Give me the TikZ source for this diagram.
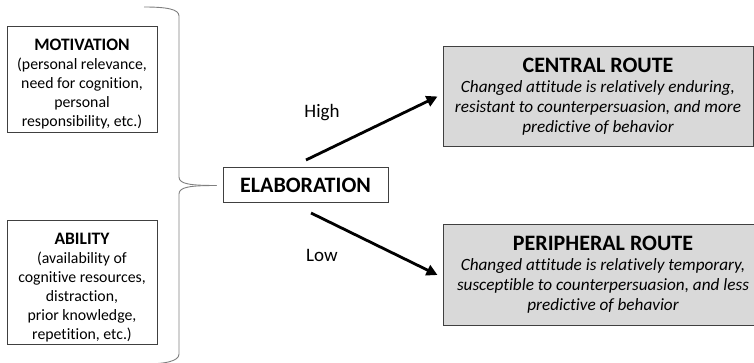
\documentclass[tikz,border=0pt]{standalone}
\usepackage{fontspec}
\setmainfont[Ligatures=NoCommon]{Carlito}
\usetikzlibrary{arrows.meta}
\definecolor{boxgray}{HTML}{D9D9D9}
\definecolor{edgegray}{HTML}{404040}
\definecolor{bracegray}{HTML}{7F7F7F}
\tikzset{
  factor/.style={draw=edgegray, line width=1pt, minimum width=150pt, align=center, inner sep=0pt, font=\fontsize{15.8}{19}\selectfont},
  route/.style={draw=edgegray, fill=boxgray, line width=1pt, minimum height=100pt, align=center, inner sep=0pt, font=\fontsize{17.2}{20}\selectfont},
  elabbox/.style={draw=edgegray, line width=1pt, minimum width=165pt, minimum height=35pt, inner sep=0pt, font=\bfseries\fontsize{22}{24}\selectfont},
  bigarrow/.style={line width=2.8pt, -{Triangle[length=11pt,width=11pt]}},
  lbl/.style={font=\fontsize{19}{21}\selectfont, inner sep=0pt},
  bracestyle/.style={draw=bracegray, line width=0.9pt}
}
\newcommand{\ftitle}[2]{{\bfseries\fontsize{17.5}{20}\selectfont\rule{0pt}{#1}#2}}
\newcommand{\rtitle}[1]{{\bfseries\fontsize{22}{27}\selectfont #1}}
\begin{document}
\begin{tikzpicture}[x=1pt,y=-1pt]
\useasboundingbox (0,0) rectangle (754,363);
\node[factor, minimum height=106pt] (motiv) at (82,80) {\ftitle{19pt}{MOTIVATION}\\(personal relevance,\\need for cognition,\\personal\\responsibility, etc.)};
\node[factor, minimum height=123pt] (abil) at (82,282.5) {\ftitle{21pt}{ABILITY}\\(availability of\\cognitive resources,\\distraction,\\prior knowledge,\\repetition, etc.)};
\node[elabbox] (elab) at (305.5,185.5) {ELABORATION};
\node[route, minimum width=310pt] (central) at (598,96.5) {\rtitle{CENTRAL ROUTE}\\\itshape Changed attitude is relatively enduring,\\\itshape resistant to counterpersuasion, and more\\\itshape predictive of behavior};
\node[route, minimum width=320pt] (periph) at (603,275) {\rtitle{PERIPHERAL ROUTE}\\\itshape Changed attitude is relatively temporary,\\\itshape susceptible to counterpersuasion, and less\\\itshape predictive of behavior};
\coordinate (hs) at (306,160);
\coordinate (ls) at (311,213);
\coordinate (he) at ([xshift=-5pt]central.west);
\coordinate (le) at ([xshift=-5pt]periph.west);
\draw[bigarrow] (hs) -- (he);
\draw[bigarrow] (ls) -- (le);
\node[lbl] (high) at (322,113) {High};
\node[lbl] (low) at (322,255) {Low};
\coordinate (tip) at ([xshift=-6pt]elab.west);
\draw[bracestyle] (144,7) .. controls (166,7) and (179,9) .. (179,16) -- (179,177) .. controls (179,184) and (190,185.5) .. (tip);
\draw[bracestyle] (tip) .. controls (190,185.5) and (179,187) .. (179,194) -- (179,354) .. controls (179,361) and (166,364) .. (144,364);
\end{tikzpicture}
\end{document}
